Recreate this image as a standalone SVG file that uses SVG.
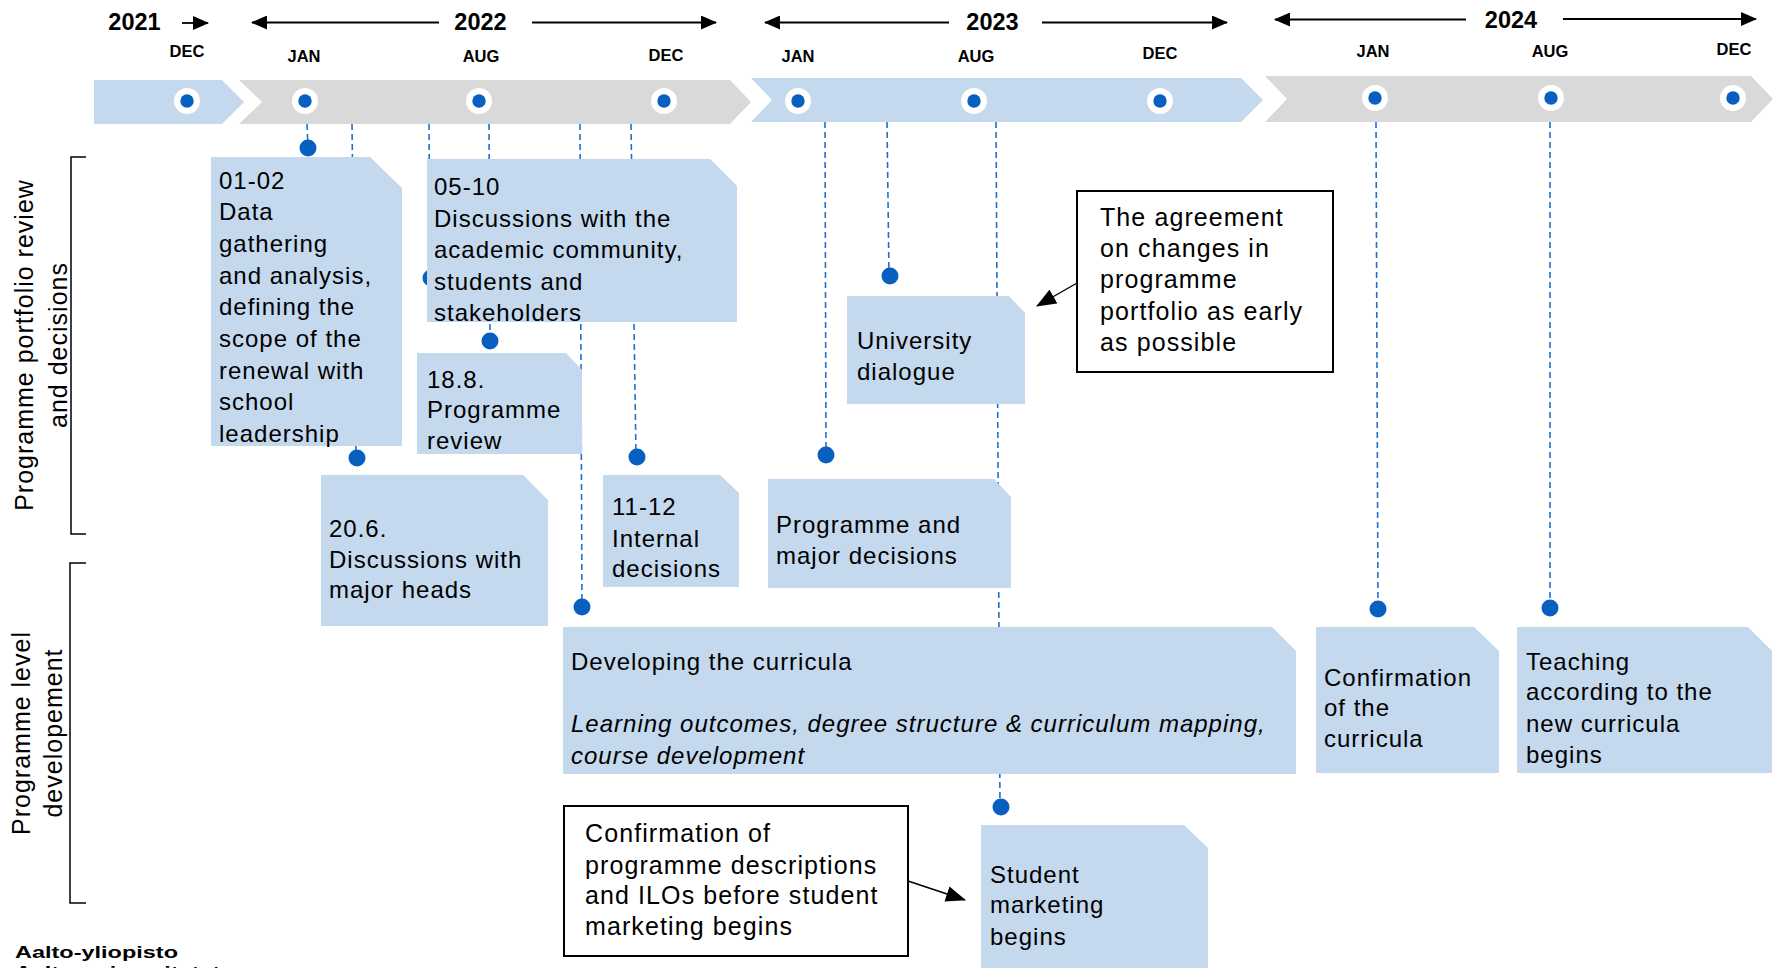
<svg xmlns="http://www.w3.org/2000/svg" width="1781" height="968" viewBox="0 0 1781 968">
<style>
text{font-family:"Liberation Sans",Arial,sans-serif;fill:#000}
.yr{font-size:23.5px;font-weight:bold;text-anchor:middle}
.mo{font-size:16.5px;font-weight:bold;text-anchor:middle}
.t{font-size:24px;letter-spacing:1px}
.tc{font-size:25px;letter-spacing:1.1px}
.ti{font-style:italic}
.side{font-size:25px;letter-spacing:1px;text-anchor:middle}
.box{fill:#C4D8EE}
.chB{fill:#C4D8EE}
.chG{fill:#D9D9D9}
.hl{stroke:#000;stroke-width:1.8;fill:none;marker-end:url(#ah)}
.dash{stroke:#1F6FCF;stroke-width:1.6;stroke-dasharray:6 4;fill:none}
.dot{fill:#0760BF}
.ring{fill:#fff}
.call{fill:#fff;stroke:#000;stroke-width:2}
.ca{stroke:#000;stroke-width:1.4;fill:none;marker-end:url(#ah2)}
.br{stroke:#000;stroke-width:1.5;fill:none}
</style>
<defs>
<marker id="ah" markerUnits="userSpaceOnUse" markerWidth="16" markerHeight="14" refX="15" refY="7" orient="auto">
<path d="M0,0 L16,7 L0,14 Z" fill="#000"/>
</marker>
<marker id="ah2" markerUnits="userSpaceOnUse" markerWidth="20" markerHeight="16" refX="19" refY="8" orient="auto">
<path d="M0,0 L20,8 L0,16 Z" fill="#000"/>
</marker>
</defs>
<rect width="1781" height="968" fill="#fff"/>

<g id="timeline-header">
<text class="yr" x="134.5" y="30">2021</text>
<line class="hl" x1="182" y1="23" x2="208" y2="23"/>
<text class="yr" x="480.5" y="30">2022</text>
<line class="hl" x1="439" y1="22.5" x2="252" y2="22.5"/>
<line class="hl" x1="532" y1="22.5" x2="716" y2="22.5"/>
<text class="yr" x="992.5" y="30">2023</text>
<line class="hl" x1="949" y1="22.5" x2="765" y2="22.5"/>
<line class="hl" x1="1042" y1="22.5" x2="1227" y2="22.5"/>
<text class="yr" x="1511" y="28">2024</text>
<line class="hl" x1="1466" y1="19.5" x2="1275" y2="19.5"/>
<line class="hl" x1="1563" y1="19" x2="1756" y2="19"/>
<text class="mo" x="187" y="57">DEC</text>
<text class="mo" x="304" y="62">JAN</text>
<text class="mo" x="481" y="62">AUG</text>
<text class="mo" x="666" y="61">DEC</text>
<text class="mo" x="798" y="62">JAN</text>
<text class="mo" x="976" y="62">AUG</text>
<text class="mo" x="1160" y="59">DEC</text>
<text class="mo" x="1373" y="57">JAN</text>
<text class="mo" x="1550" y="57">AUG</text>
<text class="mo" x="1734" y="55">DEC</text>
</g>

<g id="chevrons">
<polygon class="chB" points="94,80 222,80 244,102 222,124 94,124"/>
<polygon class="chG" points="239,80 730,80 751,102 730,124 239,124 262,102"/>
<polygon class="chB" points="751,78 1241,78 1263,100 1241,122 751,122 772,100"/>
<polygon class="chG" points="1265,76 1751,76 1773,99 1751,122 1265,122 1287,99"/>
<circle class="ring" cx="187" cy="101" r="13"/><circle class="dot" cx="187" cy="101" r="6.7"/>
<circle class="ring" cx="305" cy="101" r="13"/><circle class="dot" cx="305" cy="101" r="6.7"/>
<circle class="ring" cx="479" cy="101" r="13"/><circle class="dot" cx="479" cy="101" r="6.7"/>
<circle class="ring" cx="664" cy="101" r="13"/><circle class="dot" cx="664" cy="101" r="6.7"/>
<circle class="ring" cx="798" cy="101" r="13"/><circle class="dot" cx="798" cy="101" r="6.7"/>
<circle class="ring" cx="974" cy="101" r="13"/><circle class="dot" cx="974" cy="101" r="6.7"/>
<circle class="ring" cx="1160" cy="101" r="13"/><circle class="dot" cx="1160" cy="101" r="6.7"/>
<circle class="ring" cx="1375" cy="98" r="13"/><circle class="dot" cx="1375" cy="98" r="6.7"/>
<circle class="ring" cx="1551" cy="98" r="13"/><circle class="dot" cx="1551" cy="98" r="6.7"/>
<circle class="ring" cx="1733" cy="98" r="13"/><circle class="dot" cx="1733" cy="98" r="6.7"/>
</g>

<g id="brackets">
<path class="br" d="M86,157 H71 V534 H86"/>
<path class="br" d="M86,563 H70 V903 H86"/>
<text class="side" transform="translate(33,345) rotate(-90)">Programme portfolio review</text>
<text class="side" transform="translate(67,345) rotate(-90)">and decisions</text>
<text class="side" transform="translate(30,733) rotate(-90)">Programme level</text>
<text class="side" transform="translate(62,733) rotate(-90)">developement</text>
</g>

<g id="connectors">
<line class="dash" x1="307" y1="124" x2="308" y2="148"/>
<line class="dash" x1="352" y1="124" x2="356" y2="458"/>
<line class="dash" x1="429" y1="124" x2="430" y2="278"/>
<line class="dash" x1="489" y1="124" x2="490" y2="341"/>
<line class="dash" x1="580" y1="124" x2="582" y2="607"/>
<line class="dash" x1="631" y1="124" x2="636" y2="457"/>
<line class="dash" x1="825" y1="122" x2="826" y2="455"/>
<line class="dash" x1="887" y1="122" x2="889" y2="276"/>
<line class="dash" x1="996" y1="122" x2="1000" y2="807"/>
<line class="dash" x1="1376" y1="122" x2="1378" y2="609"/>
<line class="dash" x1="1550" y1="122" x2="1550" y2="608"/>
<circle class="dot" cx="308" cy="148" r="8.5"/>
<circle class="dot" cx="357" cy="458" r="8.5"/>
<circle class="dot" cx="431" cy="278" r="8.5"/>
<circle class="dot" cx="490" cy="341" r="8.5"/>
<circle class="dot" cx="582" cy="607" r="8.5"/>
<circle class="dot" cx="637" cy="457" r="8.5"/>
<circle class="dot" cx="826" cy="455" r="8.5"/>
<circle class="dot" cx="890" cy="276" r="8.5"/>
<circle class="dot" cx="1001" cy="807" r="8.5"/>
<circle class="dot" cx="1378" cy="609" r="8.5"/>
<circle class="dot" cx="1550" cy="608" r="8.5"/>
<line class="ca" x1="1077" y1="283" x2="1037" y2="306"/>
<line class="ca" x1="908" y1="881" x2="965" y2="900"/>
</g>

<g id="n-data">
<polygon class="box" points="211,157 370,157 402,188 402,446 211,446"/>
<text class="t"><tspan x="219" y="189">01-02</tspan><tspan x="219" y="220">Data</tspan><tspan x="219" y="252">gathering</tspan><tspan x="219" y="284">and analysis,</tspan><tspan x="219" y="315">defining the</tspan><tspan x="219" y="347">scope of the</tspan><tspan x="219" y="379">renewal with</tspan><tspan x="219" y="410">school</tspan><tspan x="219" y="442">leadership</tspan></text>
</g>

<g id="n-discussions">
<polygon class="box" points="427,159 710,159 737,186 737,322 427,322"/>
<text class="t"><tspan x="434" y="195">05-10</tspan><tspan x="434" y="227">Discussions with the</tspan><tspan x="434" y="258">academic community,</tspan><tspan x="434" y="290">students and</tspan><tspan x="434" y="321">stakeholders</tspan></text>
</g>

<g id="n-review">
<polygon class="box" points="417,353 566,353 582,370 582,454 417,454"/>
<text class="t"><tspan x="427" y="388">18.8.</tspan><tspan x="427" y="418">Programme</tspan><tspan x="427" y="449">review</tspan></text>
</g>

<g id="n-heads">
<polygon class="box" points="321,475 523,475 548,500 548,626 321,626"/>
<text class="t"><tspan x="329" y="537">20.6.</tspan><tspan x="329" y="568">Discussions with</tspan><tspan x="329" y="598">major heads</tspan></text>
</g>

<g id="n-internal">
<polygon class="box" points="603,475 720,475 739,493 739,587 603,587"/>
<text class="t"><tspan x="612" y="515">11-12</tspan><tspan x="612" y="547">Internal</tspan><tspan x="612" y="577">decisions</tspan></text>
</g>

<g id="n-major">
<polygon class="box" points="768,479 994,479 1011,497 1011,588 768,588"/>
<text class="t"><tspan x="776" y="533">Programme and</tspan><tspan x="776" y="564">major decisions</tspan></text>
</g>

<g id="n-dialogue">
<polygon class="box" points="847,296 1009,296 1025,313 1025,404 847,404"/>
<text class="t"><tspan x="857" y="349">University</tspan><tspan x="857" y="380">dialogue</tspan></text>
</g>

<g id="n-agreement">
<rect class="call" x="1077" y="191" width="256" height="181"/>
<text class="tc"><tspan x="1100" y="226">The agreement</tspan><tspan x="1100" y="257">on changes in</tspan><tspan x="1100" y="288">programme</tspan><tspan x="1100" y="320">portfolio as early</tspan><tspan x="1100" y="351">as possible</tspan></text>
</g>

<g id="n-developing">
<polygon class="box" points="563,627 1272,627 1296,651 1296,774 563,774"/>
<text class="t"><tspan x="571" y="670">Developing the curricula</tspan></text>
<text class="t ti"><tspan x="571" y="732">Learning outcomes, degree structure &amp; curriculum mapping,</tspan><tspan x="571" y="764">course development</tspan></text>
</g>

<g id="n-confirmation">
<polygon class="box" points="1316,627 1474,627 1499,651 1499,773 1316,773"/>
<text class="t"><tspan x="1324" y="686">Confirmation</tspan><tspan x="1324" y="716">of the</tspan><tspan x="1324" y="747">curricula</tspan></text>
</g>

<g id="n-teaching">
<polygon class="box" points="1517,627 1748,627 1772,651 1772,773 1517,773"/>
<text class="t"><tspan x="1526" y="670">Teaching</tspan><tspan x="1526" y="700">according to the</tspan><tspan x="1526" y="732">new curricula</tspan><tspan x="1526" y="763">begins</tspan></text>
</g>

<g id="n-confirm-desc">
<rect class="call" x="564" y="806" width="344" height="150"/>
<text class="tc"><tspan x="585" y="842">Confirmation of</tspan><tspan x="585" y="874">programme descriptions</tspan><tspan x="585" y="904">and ILOs before student</tspan><tspan x="585" y="935">marketing begins</tspan></text>
</g>

<g id="n-marketing">
<polygon class="box" points="981,825 1184,825 1208,848 1208,975 981,975"/>
<text class="t"><tspan x="990" y="883">Student</tspan><tspan x="990" y="913">marketing</tspan><tspan x="990" y="945">begins</tspan></text>
</g>

<g id="logo">
<text x="15" y="958" font-size="17" font-weight="bold" textLength="163" lengthAdjust="spacingAndGlyphs">Aalto-yliopisto</text>
<text x="15" y="978" font-size="17" font-weight="bold" textLength="205" lengthAdjust="spacingAndGlyphs">Aalto-universitetet</text>
</g>
</svg>
